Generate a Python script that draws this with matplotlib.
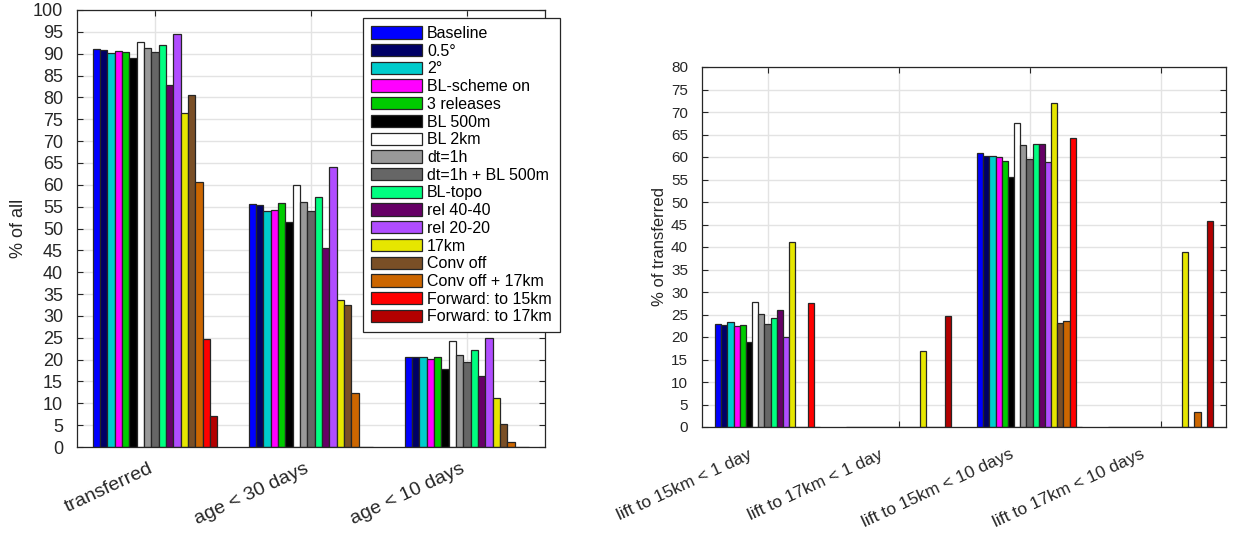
import numpy as np
import matplotlib
matplotlib.use("Agg")
import matplotlib.pyplot as plt
from matplotlib.transforms import ScaledTranslation

plt.rcParams["font.family"] = ["Liberation Sans", "DejaVu Sans"]

runs = ["Baseline", "0.5°", "2°", "BL-scheme on", "3 releases", "BL 500m", "BL 2km",
        "dt=1h", "dt=1h + BL 500m", "BL-topo", "rel 40-40", "rel 20-20", "17km",
        "Conv off", "Conv off + 17km", "Forward: to 15km", "Forward: to 17km"]
colors = ["#0000ff", "#000066", "#00cccc", "#ff00ff", "#00cc00", "#000000", "#ffffff",
          "#999999", "#666666", "#00ff80", "#660066", "#b04dff", "#e6e600",
          "#7a4f26", "#cc6600", "#ff0000", "#b30000"]

left_groups = ["transferred", "age < 30 days", "age < 10 days"]
# rows: runs, columns: groups (% of all)
left_vals = np.array([
    [91.1, 55.6, 20.7],
    [90.9, 55.4, 20.5],
    [90.2, 54.1, 20.7],
    [90.7, 54.2, 20.1],
    [90.5, 55.8, 20.7],
    [89.1, 51.5, 17.9],
    [92.7, 60.0, 24.3],
    [91.2, 56.1, 21.1],
    [90.3, 54.0, 19.5],
    [91.9, 57.3, 22.1],
    [82.8, 45.5, 16.2],
    [94.4, 64.1, 25.0],
    [76.4, 33.6, 11.1],
    [80.5, 32.4, 5.3],
    [60.6, 12.3, 1.1],
    [24.6, 0.0, 0.0],
    [7.1, 0.0, 0.0],
])

right_groups = ["lift to 15km < 1 day", "lift to 17km < 1 day",
                "lift to 15km < 10 days", "lift to 17km < 10 days"]
# rows: runs, columns: groups (% of transferred)
right_vals = np.array([
    [23.0, 0.0, 60.8, 0.0],
    [22.7, 0.0, 60.2, 0.0],
    [23.4, 0.0, 60.2, 0.0],
    [22.5, 0.0, 59.9, 0.0],
    [22.7, 0.0, 59.2, 0.0],
    [18.8, 0.0, 55.6, 0.0],
    [27.7, 0.0, 67.5, 0.0],
    [25.1, 0.0, 62.6, 0.0],
    [22.9, 0.0, 59.6, 0.0],
    [24.3, 0.0, 63.0, 0.0],
    [25.9, 0.0, 62.8, 0.0],
    [20.1, 0.0, 58.8, 0.0],
    [41.1, 16.9, 72.1, 39.0],
    [0.0, 0.0, 23.2, 0.0],
    [0.0, 0.0, 23.6, 3.3],
    [27.5, 0.0, 64.2, 0.0],
    [0.0, 24.7, 0.0, 45.8],
])

AX_COLOR = "#262626"


def grouped_bars(ax, vals, groups, ymax, fs, xfs, xshift, yshift):
    n = vals.shape[0]
    x = np.arange(1, len(groups) + 1)
    w = 0.8 / n
    for i in range(n):
        off = (i - (n - 1) / 2) * w
        ax.bar(x + off, vals[i], width=w, color=colors[i], edgecolor=AX_COLOR,
               linewidth=0.9, label=runs[i], zorder=2)
    ax.set_xlim(0.5, len(groups) + 0.5)
    ax.set_ylim(0, ymax)
    ax.set_yticks(np.arange(0, ymax + 1, 5))
    ax.set_xticks(x)
    ax.tick_params(axis="y", labelsize=fs, colors=AX_COLOR, pad=10)
    ax.tick_params(direction="in", top=True, right=True, length=4, width=0.8,
                   color=AX_COLOR)
    ax.set_xticklabels(groups, rotation=25, ha="right", va="top",
                       rotation_mode="anchor", fontsize=xfs, color=AX_COLOR)
    # push rotated category labels down/left (after tick_params, which resets transforms)
    shift = ScaledTranslation(xshift / 100, -yshift / 100, fig.dpi_scale_trans)
    for lab in ax.get_xticklabels():
        lab.set_transform(lab.get_transform() + shift)
    ax.grid(True, color="#e3e3e3", linewidth=1.0, zorder=0)
    ax.set_axisbelow(True)
    for sp in ax.spines.values():
        sp.set_color(AX_COLOR)
        sp.set_linewidth(0.9)


fig = plt.figure(figsize=(12.43, 5.33), dpi=100)

ax1 = fig.add_axes([77 / 1243, 1 - 447 / 533, (545 - 77) / 1243, (447 - 10) / 533])
grouped_bars(ax1, left_vals, left_groups, 100, 13, 14, -7, 8)
ax1.set_ylabel("% of all", fontsize=13, color=AX_COLOR, labelpad=4)

leg = ax1.legend(loc="upper left", bbox_to_anchor=(363 / 1243, 1 - 18 / 533),
                 bbox_transform=fig.transFigure, fontsize=11.5, fancybox=False,
                 framealpha=1, edgecolor=AX_COLOR, handlelength=3.2,
                 handleheight=0.8, labelspacing=0.17, borderpad=0.5,
                 handletextpad=0.3, borderaxespad=0)
leg.get_frame().set_linewidth(0.9)
leg.set_zorder(5)

ax2 = fig.add_axes([702 / 1243, 1 - 427 / 533, (1226 - 702) / 1243, (427 - 67) / 533])
grouped_bars(ax2, right_vals, right_groups, 80, 11, 12.5, -20, 15)
ax2.set_ylabel("% of transferred", fontsize=12, color=AX_COLOR, labelpad=3)

fig.savefig("out.png", dpi=100)
